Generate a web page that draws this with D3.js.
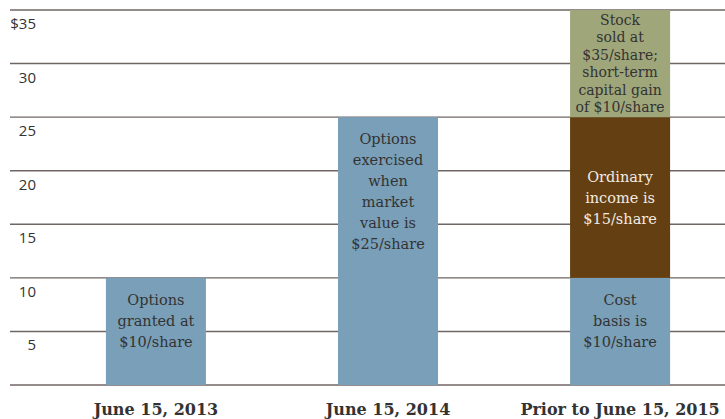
<!DOCTYPE html>
<meta charset="utf-8">
<script src="https://d3js.org/d3.v7.min.js"></script>
<style>
  body { margin: 0; background: #fff; }
</style>
<div id="chart"></div>
<script>
  // data
  var categories = ["June 15, 2013", "June 15, 2014", "Prior to June 15, 2015"];
  var costBasis = [10, 25, 10];
  var ordinaryIncome = [0, 0, 15];
  var capitalGain = [0, 0, 10];
  var yTicks = [5, 10, 15, 20, 25, 30, 35];

  var basisLabels = [
    ["Options", "granted at", "$10/share"],
    ["Options", "exercised", "when", "market", "value is", "$25/share"],
    ["Cost", "basis is", "$10/share"]
  ];
  var incomeLabels = [[], [], ["Ordinary", "income is", "$15/share"]];
  var gainLabels = [[], [], ["Stock", "sold at", "$35/share;", "short-term", "capital gain", "of $10/share"]];

  var width = 725, height = 419;

  var svg = d3.select("#chart").append("svg")
    .attr("width", width)
    .attr("height", height);

  var x = d3.scaleBand()
    .domain(categories)
    .range([40, 736])
    .paddingInner(0.569)
    .paddingOuter(0.284);

  var y = d3.scaleLinear()
    .domain([0, 35])
    .range([385, 10]);

  // grid lines
  svg.append("g")
    .selectAll("line")
    .data([0].concat(yTicks))
    .enter().append("line")
    .attr("x1", 10)
    .attr("x2", width)
    .attr("y1", function(d) { return y(d); })
    .attr("y2", function(d) { return y(d); })
    .attr("stroke", "#6f6663")
    .attr("stroke-width", 1.4);

  // tick labels
  svg.append("g")
    .selectAll("text")
    .data(yTicks)
    .enter().append("text")
    .attr("x", 36)
    .attr("y", function(d) { return y(d) + 19; })
    .attr("text-anchor", "end")
    .style("font-family", "'Open Sans', sans-serif")
    .style("font-size", "15px")
    .style("fill", "#333")
    .text(function(d) { return d === 35 ? "$" + d : d; });

  // stacked segments
  var series = [
    { values: costBasis, labels: basisLabels, color: "#7a9fb8", text: "#333", lh: 21, top: 22 },
    { values: ordinaryIncome, labels: incomeLabels, color: "#633f12", text: "#f3ebe0", lh: 21, top: null },
    { values: capitalGain, labels: gainLabels, color: "#9fa67a", text: "#333", lh: 17.5, top: 10 }
  ];

  var base = categories.map(function() { return 0; });

  series.forEach(function(s) {
    categories.forEach(function(c, i) {
      var v = s.values[i];
      if (!v) return;
      var y0 = base[i], y1 = base[i] + v;
      base[i] = y1;
      var bx = x(c), bw = x.bandwidth();
      var top = y(y1), bottom = y(y0);

      svg.append("rect")
        .attr("x", bx)
        .attr("y", top)
        .attr("width", bw)
        .attr("height", bottom - top)
        .attr("fill", s.color);

      var lines = s.labels[i];
      var first;
      if (s.top === null) {
        first = (top + bottom) / 2 - (lines.length - 1) * s.lh / 2;
      } else {
        first = top + s.top;
      }
      var t = svg.append("text")
        .attr("text-anchor", "middle")
        .style("font-family", "'DejaVu Serif', serif")
        .style("font-size", s.lh < 20 ? "14px" : "14.5px")
        .style("fill", s.text);
      lines.forEach(function(l, k) {
        t.append("tspan")
          .attr("x", bx + bw / 2)
          .attr("y", first + k * s.lh)
          .attr("dy", "0.35em")
          .text(l);
      });
    });
  });

  // category labels
  svg.append("g")
    .selectAll("text")
    .data(categories)
    .enter().append("text")
    .attr("x", function(d) { return x(d) + x.bandwidth() / 2; })
    .attr("y", 415)
    .attr("text-anchor", "middle")
    .style("font-family", "'DejaVu Serif', serif")
    .style("font-weight", "bold")
    .style("font-size", "16px")
    .style("fill", "#333")
    .text(function(d) { return d; });
</script>
